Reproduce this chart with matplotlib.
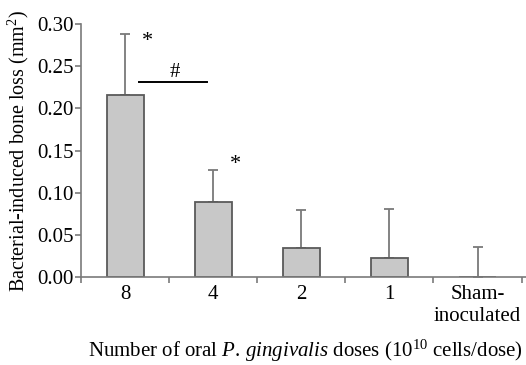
import numpy as np
import matplotlib.pyplot as plt

plt.rcParams['font.family'] = ['Liberation Serif', 'DejaVu Serif']
plt.rcParams['mathtext.fontset'] = 'custom'
plt.rcParams['mathtext.rm'] = 'Liberation Serif'
plt.rcParams['mathtext.it'] = 'Liberation Serif:italic'

categories = ['8', '4', '2', '1', 'Sham-\ninoculated']
bone_loss = [0.216, 0.089, 0.035, 0.022, 0.0]
err_top = [0.288, 0.127, 0.080, 0.081, 0.036]
star_y = [0.279, 0.133, None, None, None]

x = np.arange(len(categories))
yerr_up = np.array(err_top) - np.array(bone_loss)
yerr = [np.zeros(len(x)), yerr_up]

fig = plt.figure(figsize=(5.26, 3.65), dpi=100)
ax = fig.add_axes([0.154, 0.241, 0.846, 0.693])

ax.bar(x, bone_loss, width=0.42, color='#c8c8c8', edgecolor='#5a5a5a', linewidth=1.3, zorder=2)
ax.errorbar(x, bone_loss, yerr=yerr, fmt='none', ecolor='#7a7a7a', elinewidth=1.3,
            capsize=3.5, capthick=1.3, zorder=1)

# significance marks
for i, sy in enumerate(star_y):
    if sy is not None:
        ax.text(x[i] + 0.25, sy, '*', fontsize=16, ha='center', va='center')
ax.plot([x[0] + 0.16, x[1] - 0.07], [0.231, 0.231], color='black', lw=1.4)
ax.text(x[0] + 0.57, 0.243, '#', fontsize=15, ha='center', va='center')

ax.set_xlim(-0.5, 4.55)
ax.set_ylim(0, 0.30)
ax.set_yticks(np.arange(0, 0.31, 0.05))
ax.set_yticklabels(['%.2f' % v for v in np.arange(0, 0.31, 0.05)], fontsize=15)
ax.set_xticks(x)
ax.set_xticklabels(categories, fontsize=15, linespacing=1.2)
ax.set_xticks(np.arange(-0.5, 4.6, 1.0), minor=True)
ax.tick_params(axis='x', which='major', length=0, pad=6)
ax.tick_params(axis='x', which='minor', length=4, width=1.2, color='#7a7a7a', direction='out')
ax.tick_params(axis='y', length=4, width=1.2, color='#7a7a7a', pad=1)

for sp in ['top', 'right']:
    ax.spines[sp].set_visible(False)
for sp in ['left', 'bottom']:
    ax.spines[sp].set_color('#7a7a7a')
    ax.spines[sp].set_linewidth(1.2)

ax.set_ylabel('Bacterial-induced bone loss (mm$^2$)', fontsize=14.5)
ax.yaxis.set_label_coords(-0.112, 0.5)
ax.set_xlabel('Number of oral $P$. $gingivalis$ doses (10$^{10}$ cells/dose)', fontsize=15)
ax.xaxis.set_label_coords(0.505, -0.24)

fig.savefig('out.png', dpi=100)
